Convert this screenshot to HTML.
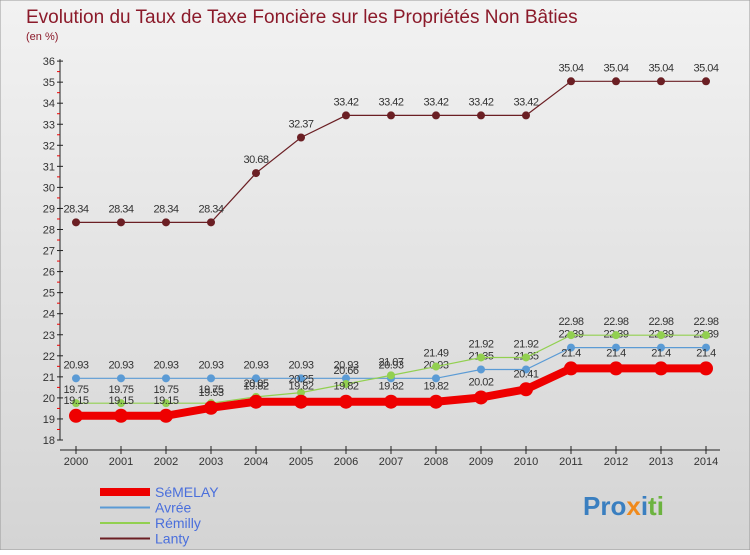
<!DOCTYPE html>
<html><head><meta charset="utf-8"><style>
body{margin:0;width:750px;height:550px;overflow:hidden;font-family:"Liberation Sans",sans-serif}
</style></head><body>
<svg width="750" height="550" xmlns="http://www.w3.org/2000/svg" font-family="Liberation Sans, sans-serif">
<defs><linearGradient id="bg" x1="0" y1="0" x2="0" y2="1"><stop offset="0" stop-color="#f2f2f2"/><stop offset="1" stop-color="#d4d4d4"/></linearGradient></defs>
<rect width="750" height="550" fill="url(#bg)" stroke="#999"/>
<text x="26" y="23" font-size="19" fill="#8b1a2a">Evolution du Taux de Taxe Foncière sur les Propriétés Non Bâties</text>
<text x="26" y="40" font-size="11" fill="#8b1a2a">(en %)</text>
<g id="axes"></g><g id="series"></g><g id="legend"></g>
<g font-size="26" font-weight="bold">
<text x="583" y="515" fill="#3a7fc0">Pro<tspan fill="#f08a1c">x</tspan><tspan fill="#3a7fc0">i</tspan><tspan fill="#6cb33f">ti</tspan></text></g>
</svg>
<script>
const years=[2000,2001,2002,2003,2004,2005,2006,2007,2008,2009,2010,2011,2012,2013,2014];
const semelay=[19.15,19.15,19.15,19.53,19.82,19.82,19.82,19.82,19.82,20.02,20.41,21.4,21.4,21.4,21.4];
const avree=[20.93,20.93,20.93,20.93,20.93,20.93,20.93,20.93,20.93,21.35,21.35,22.39,22.39,22.39,22.39];
const remilly=[19.75,19.75,19.75,19.75,20.05,20.25,20.66,21.07,21.49,21.92,21.92,22.98,22.98,22.98,22.98];
const lanty=[28.34,28.34,28.34,28.34,30.68,32.37,33.42,33.42,33.42,33.42,33.42,35.04,35.04,35.04,35.04];
const yTicks=[18,19,20,21,22,23,24,25,26,27,28,29,30,31,32,33,34,35,36];
const NS='http://www.w3.org/2000/svg';
const X=i=>76+i*45, Y=v=>440-(v-18)*21.05;
function mk(tag,attrs,parent,txt){const e=document.createElementNS(NS,tag);for(const k in attrs)e.setAttribute(k,attrs[k]);if(txt!=null)e.textContent=txt;parent.appendChild(e);return e;}
const ax=document.getElementById('axes');
let a=mk('line',{x1:60,y1:Y(36)-2,x2:60,y2:Y(18),stroke:'#222'},ax);


a=mk('line',{x1:60,y1:450,x2:720,y2:450,stroke:'#222'},ax);


yTicks.forEach(t=>{
 mk('line',{x1:57,y1:Y(t),x2:63,y2:Y(t),stroke:'#222'},ax);
 if(t<36)mk('line',{x1:57,y1:Y(t+0.5),x2:60,y2:Y(t+0.5),stroke:'#e00'},ax);
 const l=mk('text',{x:55,y:Y(t)+4,'font-size':11,'text-anchor':'end',fill:'#333'},ax,t);
 
 
});
years.forEach((y,i)=>{
 mk('line',{x1:X(i),y1:446,x2:X(i),y2:454,stroke:'#222'},ax);
 const l=mk('text',{x:X(i),y:465,'font-size':11,'text-anchor':'middle',fill:'#333'},ax,y);
 
 
});
const sg=document.getElementById('series');
function draw(vals,color,w,r,name,dy){
 const g=mk('g',{},sg);
 
 
 mk('polyline',{points:vals.map((v,i)=>X(i)+','+Y(v)).join(' '),fill:'none',stroke:color,'stroke-width':w},g);
 vals.forEach((v,i)=>{
  const c=mk('circle',{cx:X(i),cy:Y(v),r:r,fill:color},g);
  
  
  const t=mk('text',{x:X(i),y:Y(v)+dy,'font-size':11,'text-anchor':'middle',fill:'#333','letter-spacing':'-0.5'},g,String(v));
  
  
 });
}
draw(lanty,'#6b1f24',1.2,4,'lanty',-10);
draw(avree,'#5b9bd5',1.2,4,'avree',-10);
draw(remilly,'#92d050',1.2,4,'remilly',-10);
draw(semelay,'#ee0000',8,7,'semelay',-12);
const lg=document.getElementById('legend');
[['SéMELAY','#ee0000',8],['Avrée','#5b9bd5',2],['Rémilly','#92d050',2],['Lanty','#6b1f24',2]].forEach((e,i)=>{
 const g=mk('g',{},lg);
 
 
 const y=492+i*15.5;
 mk('line',{x1:100,y1:y,x2:150,y2:y,stroke:e[1],'stroke-width':e[2]},g);
 mk('text',{x:155,y:y+5,'font-size':14,fill:'#4a6fdc'},g,e[0]);
});
</script>
</body></html>
